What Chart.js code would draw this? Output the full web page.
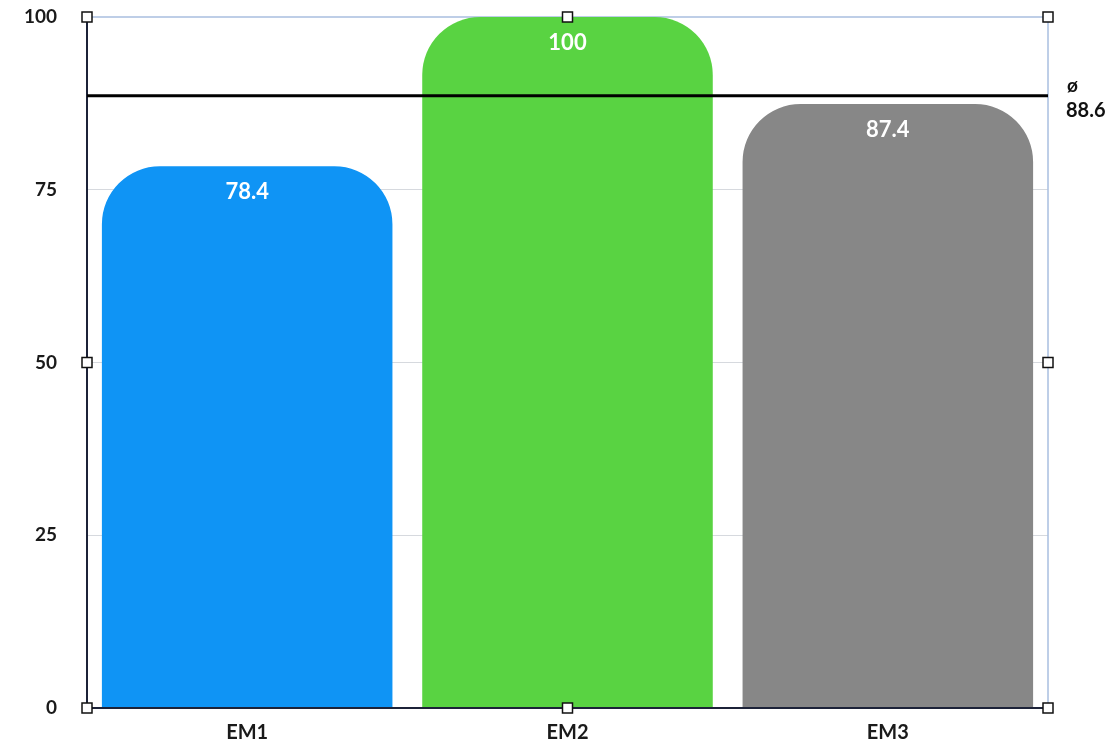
<!DOCTYPE html>
<html>
<head>
<meta charset="utf-8">
<script src="https://cdn.jsdelivr.net/npm/chart.js@4/dist/chart.umd.min.js"></script>
<style>
  html, body { margin: 0; padding: 0; background: #fff; }
  #wrap { width: 1109px; height: 743px; }
</style>
</head>
<body>
<div id="wrap"><canvas id="chart" width="1109" height="743"></canvas></div>
<script>
const categories = ['EM1', 'EM2', 'EM3'];
const scores = [78.4, 100, 87.4];
const barColors = ['#0f94f5', '#59d342', '#878787'];
const yTicks = [0, 25, 50, 75, 100];
const averageValue = 88.6;
const averageSymbol = 'ø';

const FONT = 'Lato, "Open Sans", sans-serif';

// draws value labels, the average line and the selection frame/handles
const overlay = {
    id: 'overlay',
    beforeDatasetsDraw(chart) {
        const { ctx, chartArea: a } = chart;
        ctx.save();
        ctx.strokeStyle = '#a9bfe0';
        ctx.lineWidth = 1.5;
        ctx.strokeRect(a.left, a.top, a.right - a.left, a.bottom - a.top);
        ctx.restore();
    },
    afterDatasetsDraw(chart) {
        const { ctx, chartArea: a, scales } = chart;
        const meta = chart.getDatasetMeta(0);
        ctx.save();
        ctx.fillStyle = '#ffffff';
        ctx.font = 'bold 22px ' + FONT;
        ctx.textAlign = 'center';
        ctx.textBaseline = 'middle';
        meta.data.forEach((bar, i) => {
            ctx.fillText(String(scores[i]), bar.x, bar.y + 26);
        });

        // axis lines
        ctx.strokeStyle = '#1c2238';
        ctx.lineWidth = 2;
        ctx.beginPath();
        ctx.moveTo(a.left, a.top);
        ctx.lineTo(a.left, a.bottom);
        ctx.lineTo(a.right, a.bottom);
        ctx.stroke();

        // average line
        const ay = scales.y.getPixelForValue(averageValue);
        ctx.strokeStyle = '#000';
        ctx.lineWidth = 3;
        ctx.beginPath();
        ctx.moveTo(a.left, ay);
        ctx.lineTo(a.right, ay);
        ctx.stroke();
        ctx.fillStyle = '#111';
        ctx.textAlign = 'left';
        ctx.font = 'bold 19px ' + FONT;
        ctx.fillText(averageSymbol, a.right + 19, ay - 10);
        ctx.font = 'bold 20px ' + FONT;
        ctx.fillText(String(averageValue), a.right + 18, ay + 15);

        // selection handles
        const mx = (a.left + a.right) / 2, my = (a.top + a.bottom) / 2;
        const pts = [[a.left, a.top], [mx, a.top], [a.right, a.top], [a.left, my],
                     [a.right, my], [a.left, a.bottom], [mx, a.bottom], [a.right, a.bottom]];
        ctx.lineWidth = 1.5;
        pts.forEach(([x, y]) => {
            ctx.fillStyle = '#fff';
            ctx.fillRect(x - 5, y - 5, 10, 10);
            ctx.strokeStyle = '#111';
            ctx.strokeRect(x - 5, y - 5, 10, 10);
        });
        ctx.restore();
    }
};

new Chart(document.getElementById('chart'), {
    type: 'bar',
    data: {
        labels: categories,
        datasets: [{
            data: scores,
            backgroundColor: barColors,
            borderWidth: 0,
            borderRadius: { topLeft: 58, topRight: 58, bottomLeft: 0, bottomRight: 0 },
            borderSkipped: 'bottom',
            categoryPercentage: 1,
            barPercentage: 0.907,
        }]
    },
    options: {
        responsive: false,
        animation: false,
        layout: { padding: { top: 17, right: 61, left: 0, bottom: 0 } },
        plugins: {
            legend: { display: false },
            tooltip: { enabled: false },
        },
        scales: {
            x: {
                grid: { display: false, drawTicks: false },
                border: { display: false },
                ticks: { color: '#1a1a1a', font: { family: FONT, size: 20, weight: 'bold' }, padding: 13 },
                afterFit(scale) { scale.height = 35; },
            },
            y: {
                min: 0,
                max: 100,
                afterBuildTicks(scale) { scale.ticks = yTicks.map(v => ({ value: v })); },
                grid: {
                    drawTicks: false,
                    color: ctx => (ctx.tick && (ctx.tick.value === 0 || ctx.tick.value === 100)) ? 'rgba(0,0,0,0)' : '#d6d9de',
                    lineWidth: 1,
                },
                border: { display: false },
                ticks: { color: '#1a1a1a', font: { family: FONT, size: 19, weight: 'bold' }, padding: 30 },
                afterFit(scale) {
                    scale.width = 87;
                    scale.paddingTop = 0;
                    scale.paddingBottom = 0;
                },
            }
        }
    },
    plugins: [overlay]
});
</script>
</body>
</html>
